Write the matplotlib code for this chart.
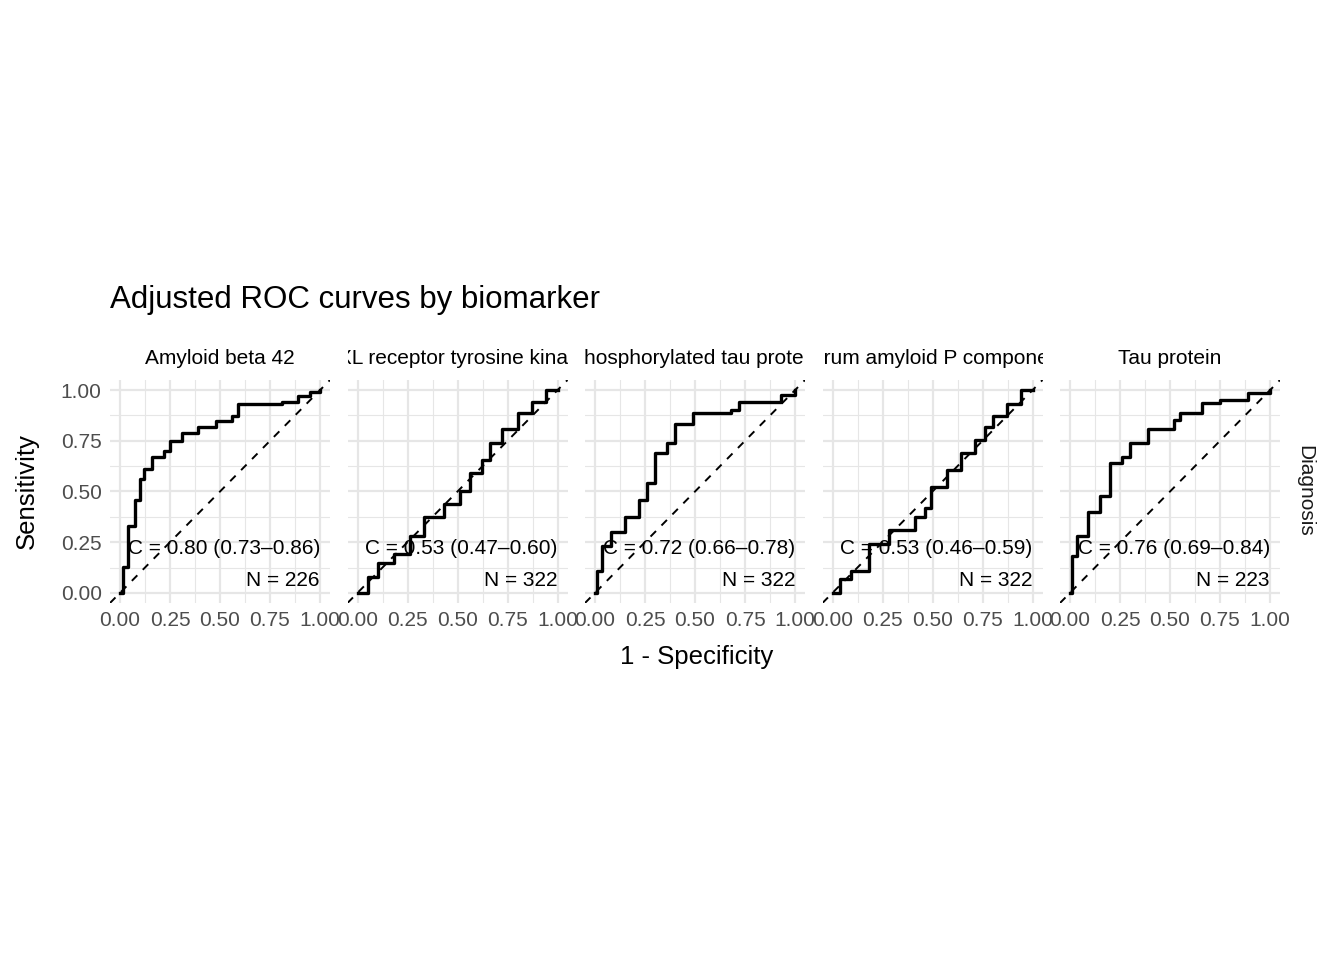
import matplotlib.pyplot as plt
import numpy as np

plt.rcParams["font.family"] = ["Liberation Sans", "DejaVu Sans"]

# panel strip labels (cut by the strip width, as in the original)
markers = [
    "Amyloid beta 42",
    "AXL receptor tyrosine kinase",
    "Phosphorylated tau protein",
    "Serum amyloid P component",
    "Tau protein",
]
auc_text = [
    "C = 0.80 (0.73\u20130.86)",
    "C = 0.53 (0.47\u20130.60)",
    "C = 0.72 (0.66\u20130.78)",
    "C = 0.53 (0.46\u20130.59)",
    "C = 0.76 (0.69\u20130.84)",
]
n_text = ["N = 226", "N = 322", "N = 322", "N = 322", "N = 223"]

fpr_ab42 = [0, 0.016, 0.04, 0.074, 0.10, 0.12, 0.16, 0.22, 0.25, 0.31, 0.39, 0.48, 0.56, 0.59, 0.81, 0.89, 0.95, 1.0]
tpr_ab42 = [0, 0.13, 0.33, 0.46, 0.56, 0.61, 0.67, 0.70, 0.75, 0.79, 0.82, 0.85, 0.87, 0.93, 0.94, 0.97, 0.99, 1.0]
fpr_axl = [0, 0.05, 0.10, 0.18, 0.26, 0.33, 0.43, 0.51, 0.56, 0.62, 0.66, 0.72, 0.80, 0.87, 0.94, 1.0]
tpr_axl = [0, 0.08, 0.145, 0.19, 0.28, 0.375, 0.44, 0.50, 0.59, 0.655, 0.74, 0.81, 0.885, 0.94, 1.0, 1.0]
fpr_ptau = [0, 0.01, 0.035, 0.08, 0.15, 0.22, 0.26, 0.30, 0.36, 0.40, 0.49, 0.68, 0.72, 0.87, 0.93, 1.0]
tpr_ptau = [0, 0.11, 0.23, 0.30, 0.375, 0.46, 0.54, 0.69, 0.74, 0.835, 0.885, 0.90, 0.94, 0.94, 0.975, 1.0]
fpr_sap = [0, 0.035, 0.09, 0.18, 0.28, 0.41, 0.46, 0.49, 0.57, 0.64, 0.71, 0.76, 0.80, 0.87, 0.94, 1.0]
tpr_sap = [0, 0.07, 0.11, 0.24, 0.31, 0.375, 0.42, 0.52, 0.605, 0.69, 0.755, 0.82, 0.87, 0.93, 1.0, 1.0]
fpr_tau = [0, 0.01, 0.035, 0.09, 0.15, 0.20, 0.26, 0.30, 0.39, 0.52, 0.55, 0.66, 0.75, 0.89, 1.0]
tpr_tau = [0, 0.18, 0.28, 0.40, 0.48, 0.64, 0.67, 0.74, 0.81, 0.855, 0.885, 0.935, 0.95, 0.985, 1.0]

curves = [(fpr_ab42, tpr_ab42), (fpr_axl, tpr_axl), (fpr_ptau, tpr_ptau),
          (fpr_sap, tpr_sap), (fpr_tau, tpr_tau)]

W, H = 1344, 960
fig = plt.figure(figsize=(W / 100, H / 100), dpi=100)

ticks = [0, 0.25, 0.5, 0.75, 1.0]
tick_labels = ["0.00", "0.25", "0.50", "0.75", "1.00"]
grid_col = "#e6e6e6"
for i, (name, (fx, ty)) in enumerate(zip(markers, curves)):
    left = 110 + i * 237.5
    ax = fig.add_axes([left / W, (H - 603) / H, 220 / W, 223 / H])
    ax.set_xlim(-0.05, 1.05)
    ax.set_ylim(-0.05, 1.05)
    for s in ax.spines.values():
        s.set_visible(False)
    ax.set_xticks(ticks)
    ax.set_xticklabels(tick_labels)
    ax.set_yticks(ticks)
    ax.set_yticklabels(tick_labels if i == 0 else [])
    ax.set_xticks(np.arange(0.125, 1.0, 0.25), minor=True)
    ax.set_yticks(np.arange(0.125, 1.0, 0.25), minor=True)
    ax.tick_params(which="both", length=0, labelsize=15, labelcolor="#4d4d4d", pad=6)
    ax.grid(True, which="major", color=grid_col, linewidth=1.6)
    ax.grid(True, which="minor", color=grid_col, linewidth=0.8)
    ax.set_axisbelow(True)

    ax.plot([-0.05, 1.05], [-0.05, 1.05], color="black", linestyle=(0, (4, 4)), linewidth=1.4)
    ax.plot(fx, ty, color="black", linewidth=2.4, drawstyle="steps-post")
    ax.text(1.0, 0.22, auc_text[i], ha="right", va="center", fontsize=15, clip_on=False)
    ax.text(1.0, 0.06, n_text[i], ha="right", va="center", fontsize=15, clip_on=False)

    strip = fig.add_axes([left / W, (H - 375) / H, 220 / W, 32 / H])
    strip.set_axis_off()
    strip.text(0.5, 0.5, name, ha="center", va="center", fontsize=15,
               transform=strip.transAxes, clip_on=True)

fig.text(110 / W, (H - 300) / H, "Adjusted ROC curves by biomarker", fontsize=22.5,
         ha="left", va="center")
fig.text(697 / W, (H - 657) / H, "1 - Specificity", fontsize=18.5, ha="center", va="center")
fig.text(27 / W, (H - 491) / H, "Sensitivity", fontsize=18.5, ha="center", va="center", rotation=90)
fig.text(1305 / W, (H - 491) / H, "Diagnosis", fontsize=15, ha="center", va="center",
         rotation=-90, color="#1a1a1a")

fig.savefig("out.png", dpi=100, facecolor="white")
